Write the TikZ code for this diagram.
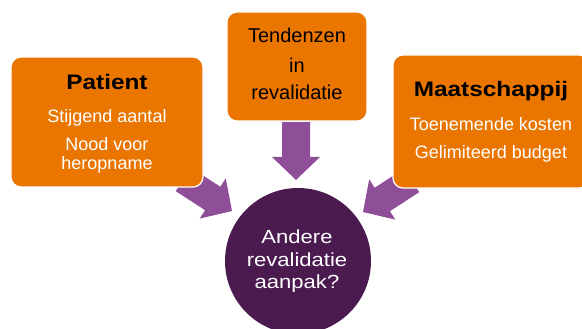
\documentclass[tikz,border=0pt]{standalone}
\usepackage{fontspec}
\setmainfont{Liberation Sans}
\newfontfamily\widefont[FakeStretch=1.16]{Liberation Sans}
\definecolor{boxorange}{HTML}{EA7600}
\definecolor{arrowpurple}{HTML}{8F4F98}
\definecolor{corepurple}{HTML}{4B1B50}
\tikzset{
  topicbox/.style={rectangle, rounded corners=10pt, fill=boxorange, draw=white, line width=1.2pt, inner sep=0pt},
  headtext/.style={anchor=base, text=black, font=\widefont\bfseries\fontsize{21}{24}\selectfont},
  subtext/.style={anchor=base, text=white, font=\fontsize{18}{21}\selectfont},
  trendtext/.style={anchor=base, text=black, font=\fontsize{20}{23}\selectfont},
  coretext/.style={anchor=base, text=white, font=\widefont\fontsize{19}{22}\selectfont},
  blockarrow/.style={fill=arrowpurple}
}
\begin{document}
\begin{tikzpicture}[x=1pt, y=-1pt]
\useasboundingbox (0,0) rectangle (582,329);
\clip (0,0) rectangle (582,329);

% block arrows (local frame: tip at origin, pointing along +x)
\def\blockarrowpath{(0,0) -- (-23,-24) -- (-23,-14) -- (-58,-14) -- (-58,14) -- (-23,14) -- (-23,24) -- cycle}
\fill[blockarrow, shift={(232,211)}, rotate=-33] \blockarrowpath;
\fill[blockarrow, shift={(296,180)}, rotate=-90] \blockarrowpath;
\fill[blockarrow, shift={(363,212)}, rotate=-147] \blockarrowpath;

% the three topic boxes
\node[topicbox, minimum width=192pt, minimum height=130pt] (patient) at (107,122) {};
\node[topicbox, minimum width=140pt, minimum height=109pt] (trends) at (297,66.5) {};
\node[topicbox, minimum width=196pt, minimum height=133pt] (society) at (491,121.5) {};

% central question
\node[circle, fill=corepurple, minimum size=146pt, inner sep=0pt] (core) at (298,261) {};

% texts
\node[headtext] (patientH) at (107,90) {Patient};
\node[subtext] (patientA) at (107,123) {Stijgend aantal};
\node[subtext] (patientB) at (107,150) {Nood voor};
\node[subtext] (patientC) at (107,169) {heropname};

\node[trendtext] (trendA) at (297,43) {Tendenzen};
\node[trendtext] (trendB) at (297,73) {in};
\node[trendtext] (trendC) at (297,100) {revalidatie};

\node[headtext] (societyH) at (491,97) {Maatschappij};
\node[subtext] (societyA) at (491,131) {Toenemende kosten};
\node[subtext] (societyB) at (491,158) {Gelimiteerd budget};

\node[coretext] (coreA) at (297,243) {Andere};
\node[coretext] (coreB) at (297,266) {revalidatie};
\node[coretext] (coreC) at (297,288) {aanpak?};
\end{tikzpicture}
\end{document}
